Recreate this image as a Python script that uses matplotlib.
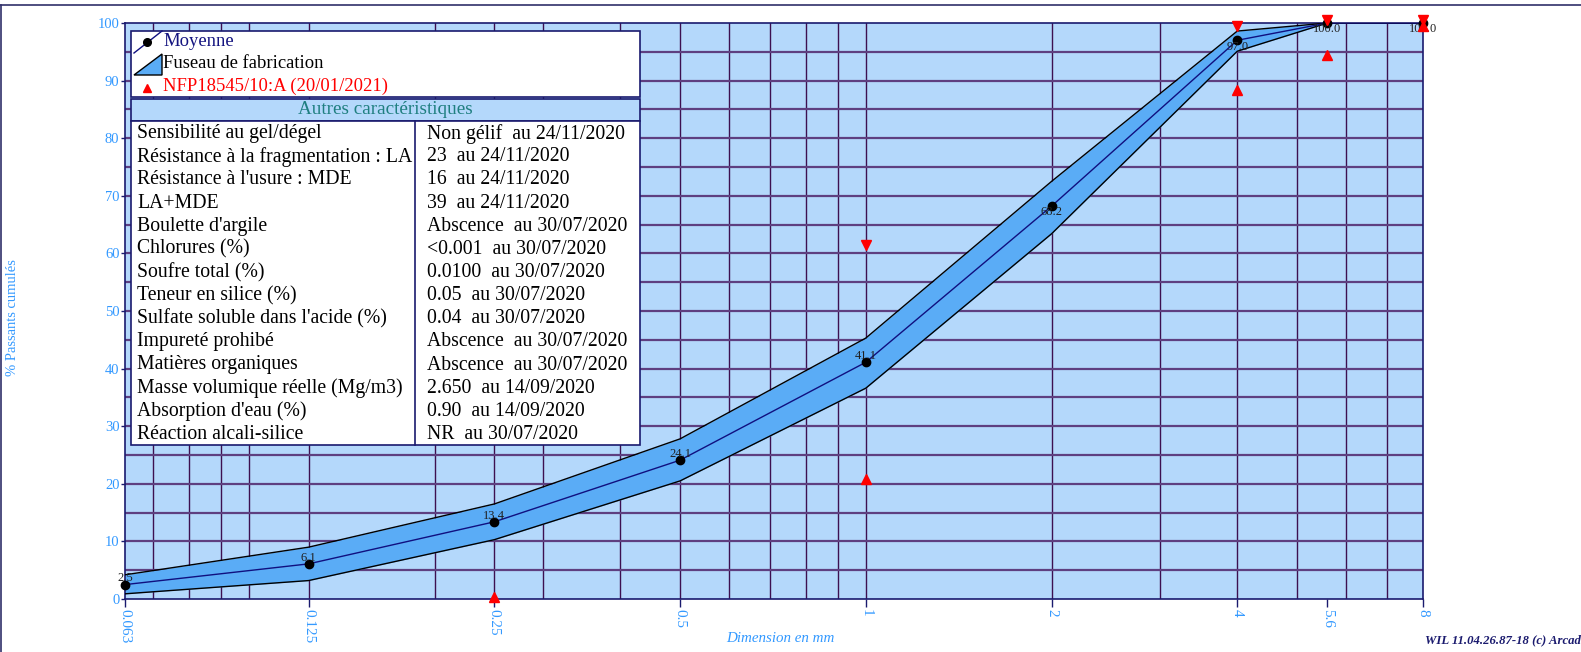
import numpy as np
import matplotlib
matplotlib.use("Agg")
import matplotlib.pyplot as plt
from matplotlib.patches import Rectangle, Polygon
from matplotlib.lines import Line2D

plt.rcParams['font.family'] = ['Liberation Serif', 'DejaVu Serif']

# tamis (mm) et courbe granulometrique
sizes = [0.063, 0.125, 0.25, 0.5, 1, 2, 4, 5.6, 8]
moyenne = [2.5, 6.1, 13.4, 24.1, 41.1, 68.2, 97.0, 100.0, 100.0]
fuseau_haut = [4.2, 9.0, 16.5, 27.8, 45.3, 72.5, 98.6, 100.0, 100.0]
fuseau_bas = [0.9, 3.2, 10.3, 20.5, 36.6, 63.4, 95.1, 100.0, 100.0]

# specification NFP18545/10:A
spec_sup_x = [1, 4, 5.6, 8]
spec_sup_y = [61.5, 99.5, 100.6, 100.6]
spec_inf_x = [0.25, 1, 4, 5.6, 8]
spec_inf_y = [0.3, 20.8, 88.4, 94.4, 99.4]

tick_labels = ["0.063", "0.125", "0.25", "0.5", "1", "2", "4", "5.6", "8"]
grid_x = [0.07, 0.08, 0.09, 0.1, 0.125, 0.2, 0.25, 0.3, 0.4, 0.5, 0.6, 0.7,
          0.8, 0.9, 1, 2, 3, 4, 5, 6, 7]

carac_labels = ["Sensibilité au gel/dégel", "Résistance à la fragmentation : LA",
                "Résistance à l'usure : MDE", "LA+MDE", "Boulette d'argile",
                "Chlorures (%)", "Soufre total (%)", "Teneur en silice (%)",
                "Sulfate soluble dans l'acide (%)", "Impureté prohibé",
                "Matières organiques", "Masse volumique réelle (Mg/m3)",
                "Absorption d'eau (%)", "Réaction alcali-silice"]
carac_values = ["Non gélif  au 24/11/2020", "23  au 24/11/2020", "16  au 24/11/2020",
                "39  au 24/11/2020", "Abscence  au 30/07/2020", "<0.001  au 30/07/2020",
                "0.0100  au 30/07/2020", "0.05  au 30/07/2020", "0.04  au 30/07/2020",
                "Abscence  au 30/07/2020", "Abscence  au 30/07/2020",
                "2.650  au 14/09/2020", "0.90  au 14/09/2020", "NR  au 30/07/2020"]

W, H = 1581, 652
def fx(x):
    return x / W
def fy(y):
    return 1 - y / H

bleu_clair = "#b4d8fb"
bleu_fuseau = "#5aacf6"
bleu_texte = "#3399ff"
marine = "#1a1a6e"

fig = plt.figure(figsize=(W / 100, H / 100), dpi=100)
ax = fig.add_axes([fx(125), fy(599), fx(1423) - fx(125), fy(23) - fy(599)])
ax.set_facecolor(bleu_clair)
ax.set_xscale("log")
ax.set_xlim(0.063, 8)
ax.set_ylim(0, 100)

for g in grid_x:
    ax.axvline(g, color="#3d1050", lw=1.0, zorder=1)
for g in range(5, 100, 5):
    ax.axhline(g, color="#5e3f80", lw=1.6, zorder=1)

ax.fill_between(sizes, fuseau_bas, fuseau_haut, color=bleu_fuseau, zorder=2, lw=0)
ax.plot(sizes, fuseau_haut, color="black", lw=1, zorder=3)
ax.plot(sizes, fuseau_bas, color="black", lw=1, zorder=3)
ax.plot(sizes, moyenne, color="#101080", lw=1, zorder=4)
ax.plot(sizes, moyenne, "o", color="black", ms=6, zorder=5, clip_on=False)
for s, v in zip(sizes, moyenne):
    dy = 4.5 if v < 50 else -4.5
    ax.annotate("%.1f" % v, (s, v), xytext=(0, dy), textcoords="offset points",
                ha="center", va="center", fontsize=9, color="#202020", zorder=6)

ax.plot(spec_sup_x, spec_sup_y, "v", color="red", ms=7, zorder=6, clip_on=False)
ax.plot(spec_inf_x, spec_inf_y, "^", color="red", ms=7, zorder=6, clip_on=False)

ax.minorticks_off()
ax.set_xticks(sizes)
ax.set_xticklabels(tick_labels, rotation=-90, color=bleu_texte, fontsize=11)
ax.set_yticks(range(0, 101, 10))
ax.set_yticklabels([str(v) for v in range(0, 101, 10)], color=bleu_texte, fontsize=10.5)
ax.tick_params(axis="x", length=6, width=1, color=marine, pad=1)
ax.tick_params(axis="y", length=3, width=1, color=marine, pad=1)
for sp in ax.spines.values():
    sp.set_color(marine)
    sp.set_linewidth(1.2)

fig.text(fx(780), fy(638), "Dimension en mm", color=bleu_texte, fontsize=10.8,
         style="italic", ha="center", va="center")
fig.text(fx(13), fy(318), "% Passants cumulés", color=bleu_texte, fontsize=10.5,
         rotation=90, ha="center", va="center")
fig.text(fx(1425), fy(640), "WIL 11.04.26.87-18 (c) Arcade", color=marine,
         fontsize=9.2, style="italic", weight="bold", ha="left", va="center")

# cadre general
fig.add_artist(Line2D([0, 1], [fy(5), fy(5)], color="#30306a", lw=1.2))
fig.add_artist(Line2D([fx(1), fx(1)], [0, fy(5)], color="#30306a", lw=1.2))

# legende
x0, x1 = 131, 640
fig.add_artist(Rectangle((fx(x0), fy(97)), fx(x1) - fx(x0), fy(31) - fy(97),
                         facecolor="white", edgecolor=marine, lw=1.2, zorder=5))
fig.add_artist(Line2D([fx(134), fx(162)], [fy(53), fy(31)], color="#101080", lw=1, zorder=6))
fig.add_artist(Line2D([fx(147)], [fy(42)], marker="o", color="black", ms=5.5, zorder=7))
fig.add_artist(Polygon([(fx(134), fy(75)), (fx(162), fy(54)), (fx(162), fy(75))],
                       closed=True, facecolor=bleu_fuseau, edgecolor="black", lw=1, zorder=6))
fig.add_artist(Line2D([fx(147)], [fy(88)], marker="^", color="red", ms=6, zorder=7))
fig.text(fx(163), fy(42), "Moyenne", color="#141480", fontsize=13.4, va="center", zorder=7)
fig.text(fx(163), fy(64), "Fuseau de fabrication", color="black", fontsize=13.4, va="center", zorder=7)
fig.text(fx(163), fy(86), "NFP18545/10:A (20/01/2021)", color="red", fontsize=13.4, va="center", zorder=7)

# tableau des autres caracteristiques
fig.add_artist(Rectangle((fx(x0), fy(121)), fx(x1) - fx(x0), fy(99) - fy(121),
                         facecolor=bleu_clair, edgecolor=marine, lw=1.2, zorder=5))
fig.text(fx((x0 + x1) / 2), fy(110), "Autres caractéristiques", color="#1f7f80",
         fontsize=13.8, ha="center", va="center", zorder=7)
fig.add_artist(Rectangle((fx(x0), fy(445)), fx(x1) - fx(x0), fy(121) - fy(445),
                         facecolor="white", edgecolor=marine, lw=1.2, zorder=5))
fig.add_artist(Line2D([fx(415), fx(415)], [fy(121), fy(445)], color=marine, lw=1.2, zorder=6))
pas = (445 - 121) / len(carac_labels)
for i in range(len(carac_labels)):
    yc = 121 + pas * (i + 0.5) + 1
    fig.text(fx(137), fy(yc), carac_labels[i], color="black", fontsize=14.2, va="center", zorder=7)
    fig.text(fx(427), fy(yc), carac_values[i], color="black", fontsize=14.2, va="center", zorder=7)

fig.savefig("out.png", dpi=100)
